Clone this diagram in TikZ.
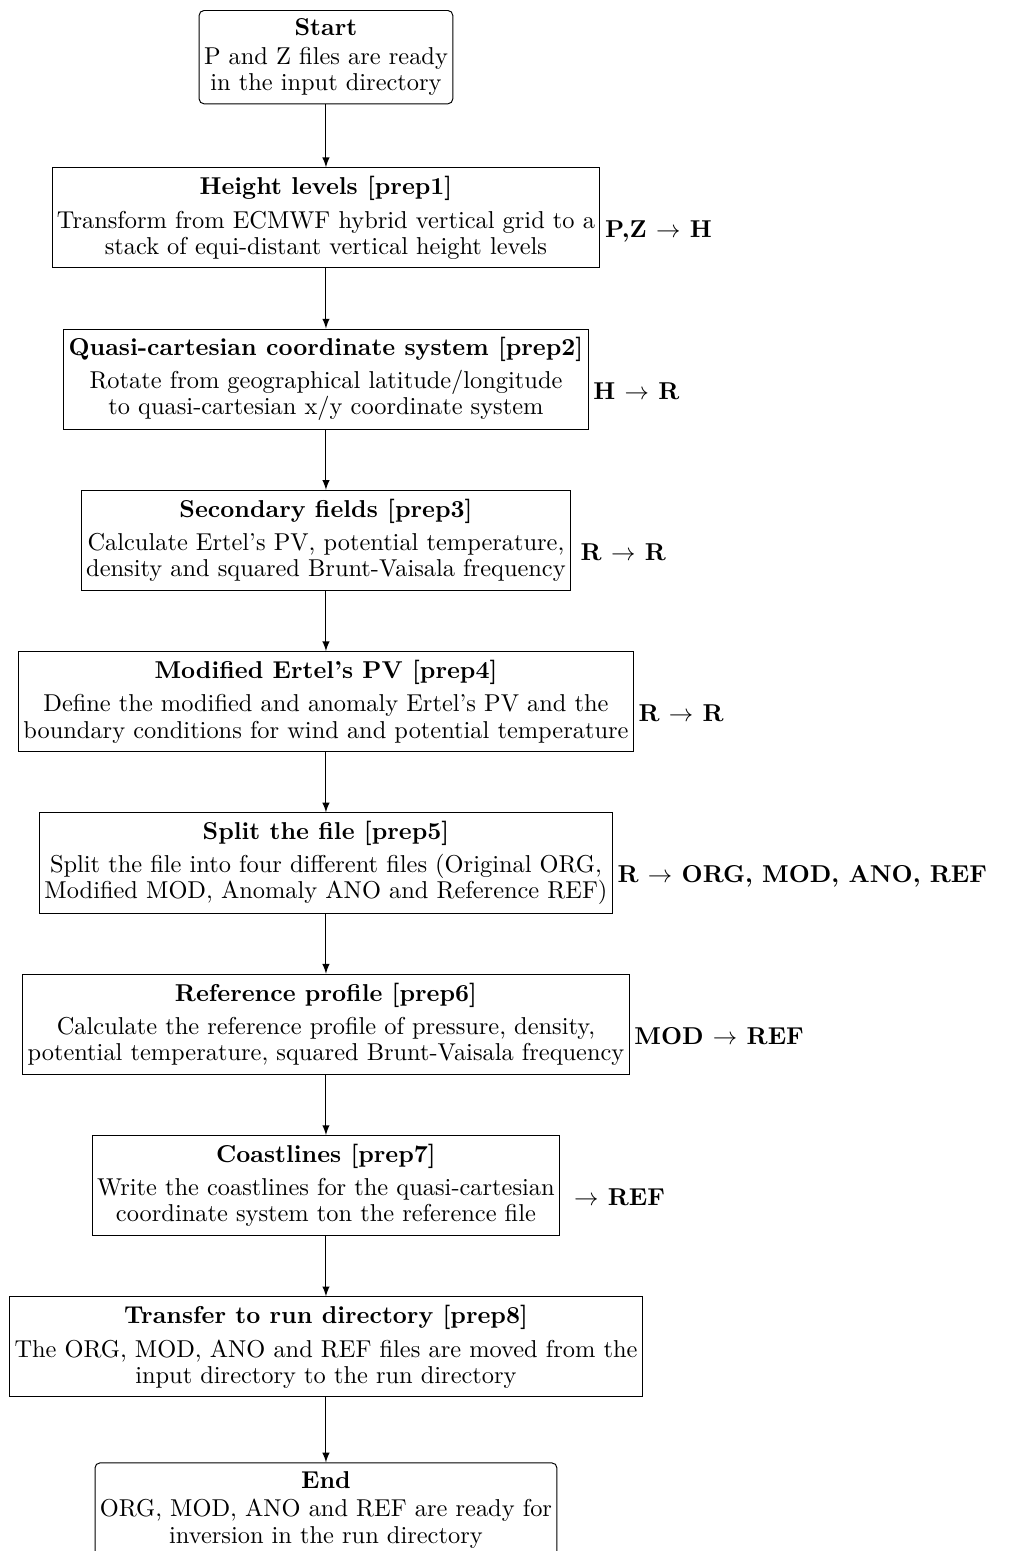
\documentclass[tikz,border=0pt]{standalone}
\usepackage{amsmath}
\usepackage{tikz}
\usetikzlibrary{arrows.meta}
\usetikzlibrary{calc,positioning}

\begin{document}
\begin{tikzpicture}[>=latex, node distance=24.7pt,
    startstop/.style={draw, rounded corners=2pt, align=center, inner xsep=2pt,
        font=\linespread{0.89}\selectfont},
    prep/.style={draw, align=center, inner xsep=2pt, minimum height=41pt,
        font=\linespread{0.89}\selectfont},
    flow/.style={right=-1.6pt of #1, anchor=base west, yshift=-8.2pt, font=\bfseries}]

    \useasboundingbox (-133.6pt,0) rectangle (284pt,-635.7pt);

    \node[startstop, anchor=north] (start) at (0,-4.1pt)
        {\textbf{Start}\\[1.2pt] P and Z files are ready\\ in the input directory};

    \node[prep, below=25.8pt of start] (p1)
        {\textbf{Height levels [prep1]}\\[3pt] Transform from ECMWF hybrid vertical grid to a\\ stack of equi-distant vertical height levels};
    \node[prep, below=of p1] (p2)
        {\textbf{Quasi-cartesian coordinate system [prep2]}\\[3pt] Rotate from geographical latitude/longitude\\ to quasi-cartesian x/y coordinate system};
    \node[prep, below=of p2] (p3)
        {\textbf{Secondary fields [prep3]}\\[3pt] Calculate Ertel's PV, potential temperature,\\ density and squared Brunt-Vaisala frequency};
    \node[prep, below=of p3] (p4)
        {\textbf{Modified Ertel's PV [prep4]}\\[3pt] Define the modified and anomaly Ertel's PV and the\\ boundary conditions for wind and potential temperature};
    \node[prep, below=of p4] (p5)
        {\textbf{Split the file [prep5]}\\[3pt] Split the file into four different files (Original ORG,\\ Modified MOD, Anomaly ANO and Reference REF)};
    \node[prep, below=of p5] (p6)
        {\textbf{Reference profile [prep6]}\\[3pt] Calculate the reference profile of pressure, density,\\ potential temperature, squared Brunt-Vaisala frequency};
    \node[prep, below=of p6] (p7)
        {\textbf{Coastlines [prep7]}\\[3pt] Write the coastlines for the quasi-cartesian\\ coordinate system ton the reference file};
    \node[prep, below=of p7] (p8)
        {\textbf{Transfer to run directory [prep8]}\\[3pt] The ORG, MOD, ANO and REF files are moved from the\\ input directory to the run directory};

    \node[startstop, below=26.7pt of p8] (stop)
        {\textbf{End}\\[1.2pt] ORG, MOD, ANO and REF are ready for\\ inversion in the run directory};

    % what each step turns into what
    \node[flow=p1] (l1) {P,Z $\rightarrow$ H};
    \node[flow=p2] (l2) {H $\rightarrow$ R};
    \node[flow=p3, xshift=2pt] (l3) {R $\rightarrow$ R};
    \node[flow=p4] (l4) {R $\rightarrow$ R};
    \node[flow=p5] (l5) {R $\rightarrow$ ORG, MOD, ANO, REF};
    \node[flow=p6] (l6) {MOD $\rightarrow$ REF};
    \node[flow=p7] (l7) {\ $\rightarrow$ REF};

    \draw[->] (start) -- (p1);
    \draw[->] (p1) -- (p2);
    \draw[->] (p2) -- (p3);
    \draw[->] (p3) -- (p4);
    \draw[->] (p4) -- (p5);
    \draw[->] (p5) -- (p6);
    \draw[->] (p6) -- (p7);
    \draw[->] (p7) -- (p8);
    \draw[->] (p8) -- (stop);

\end{tikzpicture}
\end{document}
